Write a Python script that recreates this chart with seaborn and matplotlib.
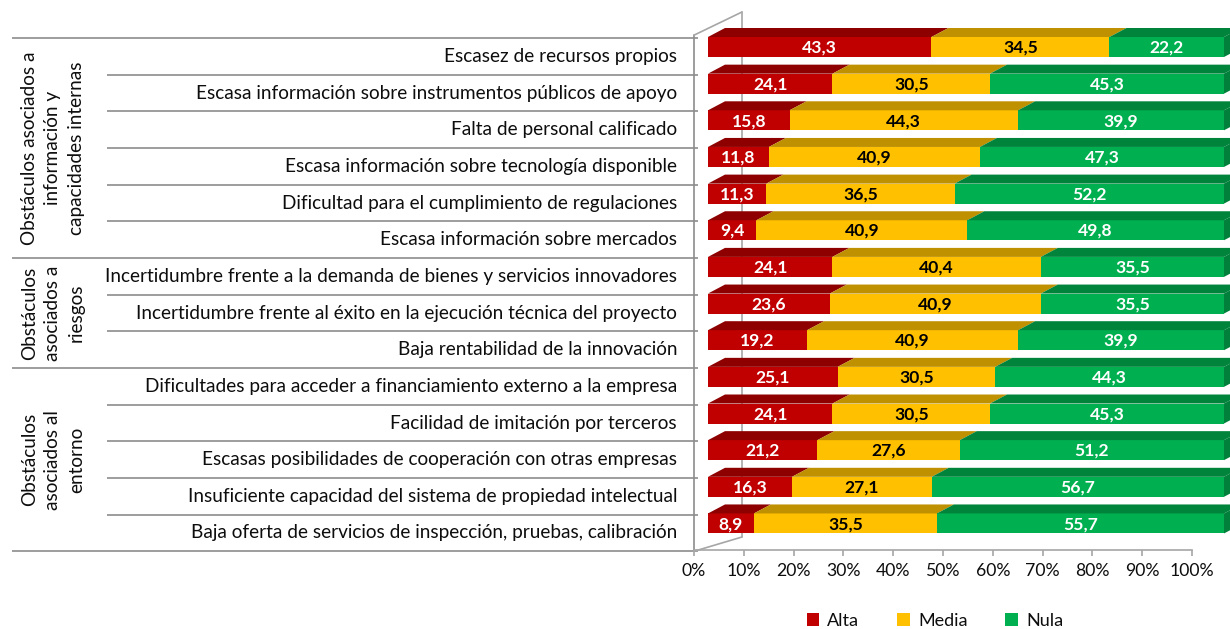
import numpy as np
import pandas as pd
import matplotlib
matplotlib.use("Agg")
import matplotlib.pyplot as plt
import seaborn as sns
from matplotlib.patches import Polygon, Patch

# ---------------- data ----------------
categories = [
    "Escasez de recursos propios",
    "Escasa información sobre instrumentos públicos de apoyo",
    "Falta de personal calificado",
    "Escasa información sobre tecnología disponible",
    "Dificultad para el cumplimiento de regulaciones",
    "Escasa información sobre mercados",
    "Incertidumbre frente a la demanda de bienes y servicios innovadores",
    "Incertidumbre frente al éxito en la ejecución técnica del proyecto",
    "Baja rentabilidad de la innovación",
    "Dificultades para acceder a financiamiento externo a la empresa",
    "Facilidad de imitación por terceros",
    "Escasas posibilidades de cooperación con otras empresas",
    "Insuficiente capacidad del sistema de propiedad intelectual",
    "Baja oferta de servicios de inspección, pruebas, calibración",
]
alta = [43.3, 24.1, 15.8, 11.8, 11.3, 9.4, 24.1, 23.6, 19.2, 25.1, 24.1, 21.2, 16.3, 8.9]
media = [34.5, 30.5, 44.3, 40.9, 36.5, 40.9, 40.4, 40.9, 40.9, 30.5, 30.5, 27.6, 27.1, 35.5]
nula = [22.2, 45.3, 39.9, 47.3, 52.2, 49.8, 35.5, 35.5, 39.9, 44.3, 45.3, 51.2, 56.7, 55.7]
groups = [
    "Obstáculos asociados a\ninformación y\ncapacidades internas",
    "Obstáculos\nasociados a\nriesgos",
    "Obstáculos\nasociados al\nentorno",
]
group_sizes = [6, 3, 5]
series = ["Alta", "Media", "Nula"]
x_ticks = [0, 10, 20, 30, 40, 50, 60, 70, 80, 90, 100]
tick_labels = [f"{t}%" for t in x_ticks]

# ---------------- style ----------------
front = {"Alta": "#C00000", "Media": "#FFC000", "Nula": "#00B050"}
top = {"Alta": "#8E0000", "Media": "#BF9000", "Nula": "#00843C"}
side_col = "#00803A"
txt_col = {"Alta": "white", "Media": "black", "Nula": "white"}
line_col = "#8C8C8C"
frame_col = "#A6A6A6"
ink = "#0D0D0D"

sns.set_theme(style="white")
plt.rcParams["font.family"] = ["Lato", "DejaVu Sans"]
plt.rcParams["text.color"] = ink

W, H = 1230, 629
fig = plt.figure(figsize=(W / 100, H / 100), dpi=100)
fig.patch.set_facecolor("white")


def rect(l, t, w, h):
    return [l / W, 1 - (t + h) / H, w / W, h / H]


n = len(categories)
ROW0, ROWH = 56.5, 36.65
BAR_H = 20 / ROWH

# background (table) axes in pixel coordinates
bg = fig.add_axes([0, 0, 1, 1])
bg.set_xlim(0, W)
bg.set_ylim(H, 0)
bg.axis("off")

# fit font size to reference label width
renderer = fig.canvas.get_renderer()
probe = bg.text(0, 0, categories[6], fontsize=12)
w = probe.get_window_extent(renderer).width
probe.remove()
FS = 12 * 570 / w

# table lines
bounds = set(np.cumsum([0] + group_sizes).tolist())
for b in range(n + 1):
    y = ROW0 + ROWH * (b - 0.5)
    x0 = 12 if b in bounds else 107
    bg.plot([x0, 698], [y, y], color=line_col, lw=1.2, solid_capstyle="butt")

# 3D frame lines
y_top_tab = ROW0 - ROWH / 2
y_bot_tab = ROW0 + ROWH * (n - 0.5)
bg.plot([694, 694], [y_top_tab - 3, y_bot_tab], color=line_col, lw=1.2)
bg.plot([694, 742], [y_top_tab - 3, 12], color=frame_col, lw=1.2)
bg.plot([742, 742], [12, 537], color=frame_col, lw=1.2)
bg.plot([694, 742], [y_bot_tab, 537], color=frame_col, lw=1.2)

# category labels
for i, c in enumerate(categories):
    bg.text(677, ROW0 + ROWH * i, c, ha="right", va="center", fontsize=FS)

# group labels
start = 0
for g, s in zip(groups, group_sizes):
    yc = ROW0 + ROWH * (start + s / 2 - 0.5)
    bg.text(53, yc, g, rotation=90, ha="center", va="center", fontsize=FS,
            multialignment="center", linespacing=1.45)
    start += s

# ---------------- bars ----------------
vals = pd.DataFrame({"cat": categories, "Alta": alta, "Media": media, "Nula": nula})
tot = vals[series].sum(axis=1)
pct = vals[series].div(tot, axis=0) * 100
cum = pct.cumsum(axis=1)

ax = fig.add_axes(rect(708, ROW0 - 9.5 - ROWH / 2, 516, ROWH * n))
for s in reversed(series):
    sns.barplot(x=cum[s].values, y=vals["cat"], color=front[s], saturation=1,
                width=BAR_H, orient="h", ax=ax, linewidth=0)
ax.set_xlim(0, 100)
ax.set_ylim(n - 0.5, -0.5)
ax.axis("off")

DX = 17 / 5.16
DY = 9 / ROWH
for i in range(n):
    yt = i - BAR_H / 2
    yb = i + BAR_H / 2
    left = 0.0
    for s in series:
        right = cum.loc[i, s]
        ax.add_patch(Polygon([(left, yt), (right, yt), (right + DX, yt - DY), (left + DX, yt - DY)],
                             closed=True, facecolor=top[s], edgecolor="none", clip_on=False))
        ax.text((left + right) / 2, i + 0.02, f"{vals.loc[i, s]:.1f}".replace(".", ","),
                ha="center", va="center", fontsize=FS * 0.92, fontweight="bold", color=txt_col[s])
        left = right
    ax.add_patch(Polygon([(100, yt), (100, yb), (100 + DX, yb - DY), (100 + DX, yt - DY)],
                         closed=True, facecolor=side_col, edgecolor="none", clip_on=False))

# ---------------- value axis ----------------
ax2 = fig.add_axes(rect(694, 540, 498, 9.5))
ax2.set_facecolor("none")
ax2.set_xlim(0, 100)
ax2.set_yticks([])
for sp in ["top", "left", "right"]:
    ax2.spines[sp].set_visible(False)
ax2.spines["bottom"].set_color(frame_col)
ax2.spines["bottom"].set_linewidth(1.2)
ax2.set_xticks(x_ticks, tick_labels)
ax2.tick_params(axis="x", bottom=True, direction="out", length=4, width=1.2, color=frame_col,
                labelsize=FS * 0.93, pad=6, labelcolor=ink)

# ---------------- legend ----------------
handles = [Patch(facecolor=front[s], edgecolor="none", label=s) for s in series]
bg.legend(handles=handles, loc="center", bbox_to_anchor=(935, 621), bbox_transform=bg.transData,
          ncol=3, frameon=False, fontsize=FS * 0.95, handlelength=0.7, handleheight=0.7,
          handletextpad=0.45, columnspacing=2.1, borderpad=0)

fig.savefig("out.png", dpi=100, facecolor="white")
